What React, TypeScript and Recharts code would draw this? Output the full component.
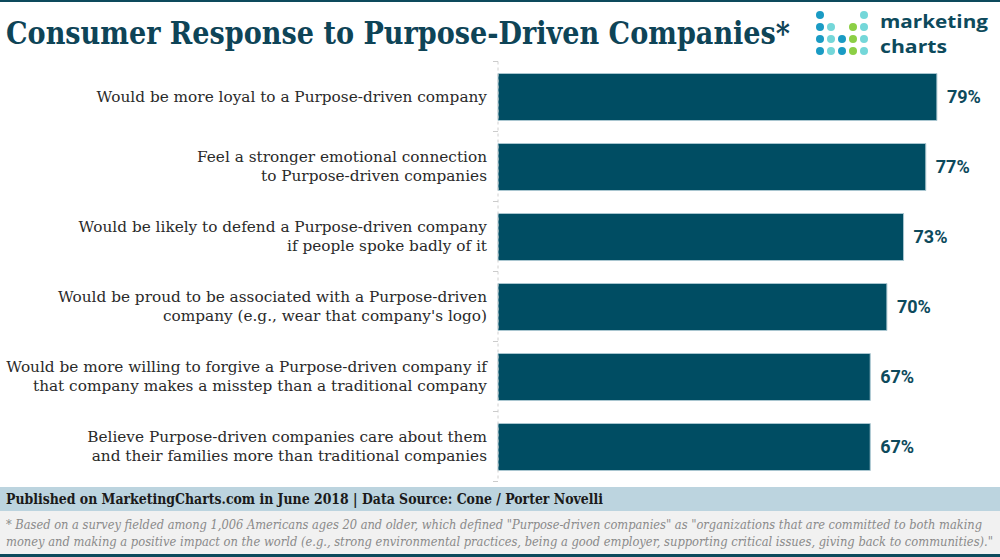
import React from "react";
import { BarChart, Bar, XAxis, YAxis, LabelList } from "recharts";

const categories: string[] = [
  "Would be more loyal to a Purpose-driven company",
  "Feel a stronger emotional connection\nto Purpose-driven companies",
  "Would be likely to defend a Purpose-driven company\nif people spoke badly of it",
  "Would be proud to be associated with a Purpose-driven\ncompany (e.g., wear that company's logo)",
  "Would be more willing to forgive a Purpose-driven company if\nthat company makes a misstep than a traditional company",
  "Believe Purpose-driven companies care about them\nand their families more than traditional companies",
];
const values: number[] = [79, 77, 73, 70, 67, 67];

const title = "Consumer Response to Purpose-Driven Companies*";
const published = "Published on MarketingCharts.com in June 2018 | Data Source: Cone / Porter Novelli";
const footnote1 =
  '* Based on a survey fielded among 1,006 Americans ages 20 and older, which defined "Purpose-driven companies" as "organizations that are committed to both making';
const footnote2 =
  'money and making a positive impact on the world (e.g., strong environmental practices, being a good employer, supporting critical issues, giving back to communities)."';

const data = categories.map((c, i) => ({ name: c, value: values[i] }));

const DARK = "#0d4a5c";
const BAR = "#004d63";

const CategoryTick = (props: any) => {
  const { x, y, payload, index } = props;
  const lines: string[] = String(payload.value).split("\n");
  const lh = 19;
  const start = y - ((lines.length - 1) * lh) / 2;
  const off = payload.offset || 0;
  return (
    <g>
      <line x1={x + 3} x2={x + 8} y1={y - off} y2={y - off} stroke="#ccc" />
      {index === categories.length - 1 && (
        <line x1={x + 3} x2={x + 8} y1={y + off} y2={y + off} stroke="#ccc" />
      )}
      <text
        x={x - 3}
        y={start}
        textAnchor="end"
        dominantBaseline="central"
        fontFamily="'DejaVu Serif', serif"
        fontSize={15.3}
        fill="#2a2a2a"
      >
        {lines.map((l, i) => (
          <tspan key={i} x={x - 3} y={start + i * lh} dominantBaseline="central">
            {l}
          </tspan>
        ))}
      </text>
    </g>
  );
};

const dots: { cx: number; cy: number; c: string }[] = [];
const BLUE = "#1a9bc4";
const TEAL = "#74d7d9";
const GREEN = "#8ccf45";
const colX = [820, 831, 842, 853, 864];
const rowY = [15, 27, 39, 51];
const grid: (string | null)[][] = [
  [BLUE, null, null, null, TEAL],
  [BLUE, TEAL, null, GREEN, TEAL],
  [BLUE, TEAL, BLUE, GREEN, TEAL],
  [BLUE, TEAL, BLUE, GREEN, TEAL],
];
grid.forEach((row, r) =>
  row.forEach((c, k) => {
    if (c) dots.push({ cx: colX[k], cy: rowY[r], c });
  })
);

export default function App() {
  return (
    <div
      style={{
        position: "absolute",
        left: 0,
        top: 0,
        width: 1000,
        height: 557,
        background: "#fff",
        overflow: "hidden",
      }}
    >
      <svg
        width={1000}
        height={557}
        style={{ position: "absolute", left: 0, top: 0 }}
      >
        <rect x={0} y={0} width={1000} height={2} fill={DARK} />
        <text
          x={6}
          y={44}
          fontFamily="'DejaVu Serif Condensed', 'DejaVu Serif', serif"
          fontWeight={700}
          fontSize={31}
          fill="#0e4457"
          textLength={784}
          lengthAdjust="spacingAndGlyphs"
        >
          {title}
        </text>
        {dots.map((d, i) => (
          <circle key={i} cx={d.cx} cy={d.cy} r={4} fill={d.c} />
        ))}
        <text
          x={880}
          y={27.5}
          fontFamily="'Open Sans', sans-serif"
          fontWeight={700}
          fontSize={18.5}
          fill={DARK}
          textLength={108}
          lengthAdjust="spacingAndGlyphs"
        >
          marketing
        </text>
        <text
          x={880}
          y={53}
          fontFamily="'Open Sans', sans-serif"
          fontWeight={700}
          fontSize={18.5}
          fill={DARK}
          textLength={67}
          lengthAdjust="spacingAndGlyphs"
        >
          charts
        </text>
        <rect x={0} y={487} width={1000} height={24} fill="#bcd4df" />
        <text
          x={6}
          y={504}
          fontFamily="'DejaVu Serif Condensed', 'DejaVu Serif', serif"
          fontWeight={700}
          fontSize={14}
          fill="#1a1a1a"
          textLength={597}
          lengthAdjust="spacingAndGlyphs"
        >
          {published}
        </text>
        <rect x={0} y={511} width={1000} height={43} fill="#f1f1f1" />
        <text
          x={6}
          y={529}
          fontFamily="'DejaVu Serif Condensed', 'DejaVu Serif', serif"
          fontStyle="italic"
          fontSize={12.5}
          fill="#8a8a8a"
          textLength={976}
          lengthAdjust="spacingAndGlyphs"
        >
          {footnote1}
        </text>
        <text
          x={6}
          y={546}
          fontFamily="'DejaVu Serif Condensed', 'DejaVu Serif', serif"
          fontStyle="italic"
          fontSize={12.5}
          fill="#8a8a8a"
          textLength={987}
          lengthAdjust="spacingAndGlyphs"
        >
          {footnote2}
        </text>
        <rect x={0} y={554} width={1000} height={3} fill={DARK} />
      </svg>
      <div style={{ position: "absolute", left: 0, top: 0 }}>
        <BarChart
          width={1000}
          height={557}
          data={data}
          layout="vertical"
          margin={{ top: 61.5, right: 2, bottom: 75.5, left: 0 }}
          barCategoryGap={23}
        >
          <XAxis type="number" domain={[0, 90]} hide />
          <YAxis
            type="category"
            dataKey="name"
            width={498}
            axisLine={{ stroke: "#d0d0d0", strokeDasharray: "3 3" }}
            tickLine={false}
            tick={<CategoryTick />}
            interval={0}
          />
          <Bar
            dataKey="value"
            fill={BAR}
            stroke="#a9c6d0"
            strokeWidth={1}
            barSize={47}
            isAnimationActive={false}
          >
            <LabelList
              dataKey="value"
              position="right"
              offset={10}
              formatter={(v: any) => `${v}%`}
              style={{
                fontFamily: "Roboto, sans-serif",
                fontWeight: 700,
                fontSize: 18,
                fill: DARK,
              }}
            />
          </Bar>
        </BarChart>
      </div>
    </div>
  );
}
